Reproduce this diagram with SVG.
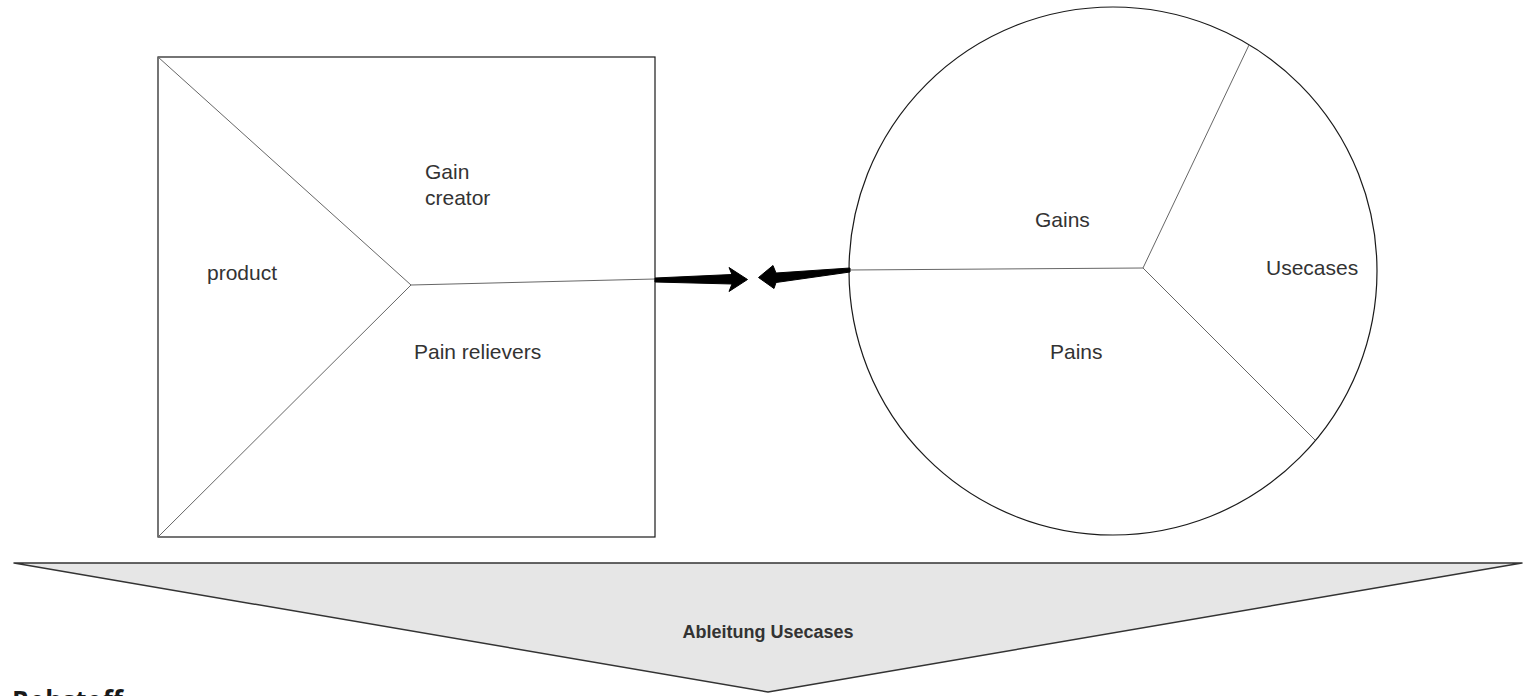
<svg xmlns="http://www.w3.org/2000/svg" width="1532" height="696" viewBox="0 0 1532 696">
  <style>
    .frame { fill: #ffffff; stroke: #1a1a1a; stroke-width: 1.2; }
    .divider { fill: none; stroke: #666666; stroke-width: 1; }
    .label { font-family: "Liberation Sans", Arial, sans-serif; font-size: 21px; fill: #333333; }
    .bold { font-size: 18px; font-weight: bold; text-anchor: middle; }
    .arrow { fill: #000000; stroke: #000000; stroke-width: 1; stroke-linejoin: miter; }
  </style>

  <rect width="1532" height="696" fill="#ffffff"/>

  <!-- Value map: square split into three segments -->
  <g id="value-map">
    <rect class="frame" x="158" y="57" width="497" height="480"/>
    <path class="divider" d="M158,57 L411,285 M158,537 L411,285 L655,279"/>
    <text class="label" x="207" y="280">product</text>
    <text class="label" x="425" y="179">Gain</text>
    <text class="label" x="425" y="205">creator</text>
    <text class="label" x="414" y="359">Pain relievers</text>
  </g>

  <!-- Customer profile: circle split into three segments -->
  <g id="customer-profile">
    <circle class="frame" cx="1113" cy="271" r="264"/>
    <path class="divider" d="M849,270 L1143,268 L1249,45 M1143,268 L1315,440"/>
    <text class="label" x="1035" y="227">Gains</text>
    <text class="label" x="1266" y="275">Usecases</text>
    <text class="label" x="1050" y="359">Pains</text>
  </g>

  <!-- Fit arrows between both sides -->
  <g id="connectors">
    <path class="arrow" d="M655,278 L732,274.5 L729,267.5 L747.5,279.5 L729,291.5 L732,284 L655,282 Z"/>
    <path class="arrow" d="M850,268 L776,273 L773,265.5 L758.5,277.5 L774,288.5 L776,282.5 L850,272 Z"/>
  </g>

  <!-- Derivation funnel -->
  <g id="derivation">
    <path d="M14,563 L1522,563 L768,692 Z" fill="#e6e6e6" stroke="#333333" stroke-width="1.5" stroke-linejoin="round"/>
    <text class="label bold" x="768" y="638">Ableitung Usecases</text>
  </g>

  <!-- Heading of the following section, running off the bottom edge -->
  <g id="next-section">
    <text x="12" y="710" font-family="Open Sans, sans-serif" font-weight="bold" font-size="26" fill="#1a1a1a">Rohstoff</text>
  </g>
</svg>
